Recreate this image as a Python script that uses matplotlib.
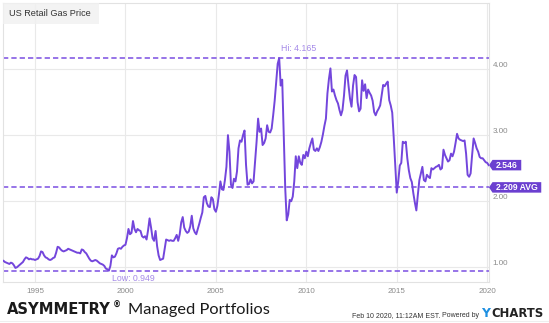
import matplotlib
matplotlib.use("Agg")
import matplotlib.pyplot as plt
from matplotlib.patches import Rectangle, Polygon
from matplotlib.transforms import IdentityTransform, blended_transform_factory
import numpy as np

# Monthly US retail gasoline price, $/gal, Mar 1993 - Feb 2020
start_year, start_month = 1993, 3
prices = [
    # 1993 (Mar-Dec)
    1.09, 1.10, 1.08, 1.07, 1.06, 1.05, 1.07, 1.06, 1.03, 0.99,
    # 1994
    1.00, 1.02, 1.04, 1.06, 1.08, 1.12, 1.15, 1.14, 1.12, 1.13, 1.12, 1.12,
    # 1995
    1.11, 1.12, 1.13, 1.17, 1.24, 1.23, 1.18, 1.15, 1.14, 1.12, 1.11, 1.12,
    # 1996
    1.14, 1.15, 1.22, 1.31, 1.30, 1.27, 1.25, 1.24, 1.25, 1.26, 1.28, 1.27,
    # 1997
    1.26, 1.25, 1.24, 1.23, 1.22, 1.22, 1.21, 1.27, 1.26, 1.23, 1.21, 1.17,
    # 1998
    1.13, 1.10, 1.09, 1.10, 1.11, 1.10, 1.08, 1.06, 1.05, 1.04, 1.02, 0.98,
    # 1999
    0.97, 0.949, 1.02, 1.18, 1.15, 1.16, 1.21, 1.28, 1.29, 1.28, 1.31, 1.33,
    # 2000
    1.34, 1.44, 1.58, 1.50, 1.52, 1.70, 1.58, 1.53, 1.58, 1.56, 1.55, 1.47,
    # 2001
    1.45, 1.47, 1.42, 1.56, 1.74, 1.60, 1.44, 1.40, 1.55, 1.32, 1.18, 1.11,
    # 2002
    1.12, 1.13, 1.28, 1.42, 1.41, 1.40, 1.41, 1.40, 1.40, 1.44, 1.49, 1.40,
    # 2003
    1.50, 1.68, 1.76, 1.60, 1.55, 1.52, 1.54, 1.62, 1.78, 1.59, 1.53, 1.50,
    # 2004
    1.58, 1.66, 1.75, 1.83, 2.06, 2.08, 1.97, 1.92, 1.91, 2.06, 2.03, 1.88,
    # 2005
    1.84, 1.93, 2.10, 2.30, 2.18, 2.17, 2.32, 2.52, 3.00, 2.75, 2.25, 2.20,
    # 2006
    2.34, 2.30, 2.45, 2.80, 2.92, 2.90, 3.00, 3.07, 2.55, 2.25, 2.26, 2.33,
    # 2007
    2.27, 2.30, 2.60, 2.90, 3.25, 3.05, 3.10, 2.85, 2.88, 2.95, 3.15, 3.05,
    # 2008
    3.04, 3.10, 3.30, 3.52, 3.80, 4.08, 4.165, 3.75, 3.84, 3.00, 2.20, 1.71,
    # 2009
    1.80, 2.02, 2.00, 2.07, 2.30, 2.68, 2.50, 2.68, 2.58, 2.55, 2.70, 2.65,
    # 2010
    2.75, 2.68, 2.80, 2.88, 2.95, 2.78, 2.76, 2.80, 2.76, 2.82, 2.90, 3.01,
    # 2011
    3.14, 3.25, 3.63, 3.85, 4.01, 3.66, 3.69, 3.60, 3.53, 3.48, 3.38, 3.30,
    # 2012
    3.38, 3.60, 3.90, 3.98, 3.75, 3.55, 3.43, 3.75, 3.91, 3.88, 3.50, 3.36,
    # 2013
    3.40, 3.83, 3.67, 3.77, 3.56, 3.69, 3.64, 3.60, 3.52, 3.35, 3.30, 3.36,
    # 2014
    3.40, 3.45, 3.60, 3.76, 3.74, 3.78, 3.81, 3.53, 3.45, 3.34, 2.96, 2.55,
    # 2015
    2.13, 2.30, 2.54, 2.58, 2.90, 2.88, 2.90, 2.65, 2.47, 2.35, 2.29, 2.12,
    # 2016
    1.98, 1.86, 2.10, 2.32, 2.42, 2.52, 2.32, 2.30, 2.40, 2.37, 2.35, 2.50,
    # 2017
    2.48, 2.50, 2.52, 2.53, 2.55, 2.48, 2.50, 2.78, 2.70, 2.65, 2.60, 2.62,
    # 2018
    2.72, 2.68, 2.75, 2.88, 3.02, 2.95, 2.93, 2.92, 2.91, 2.92, 2.72, 2.40,
    # 2019
    2.37, 2.42, 2.70, 2.95, 2.88, 2.80, 2.75, 2.67, 2.65, 2.65, 2.62, 2.59,
    # 2020
    2.58, 2.546,
]

hi_value = 4.165
low_value = 0.949
avg_value = 2.209
last_value = 2.546
year_ticks = [1995, 2000, 2005, 2010, 2015, 2020]
price_ticks = [1.00, 2.00, 3.00, 4.00]

dates = start_year + (start_month - 1) / 12 + np.arange(len(prices)) / 12
prices = np.array(prices)

PURPLE = "#7346dc"
DASH = "#7a4ee2"
BOX = "#6b3fd0"
LIGHT_PURPLE = "#a58ae8"
GRID = "#e9e9e9"
SANS = "Liberation Sans"

plt.rcParams["lines.scale_dashes"] = False

W, H = 549, 323
fig = plt.figure(figsize=(W / 100, H / 100), dpi=100)
fig.patch.set_facecolor("white")

# plot area in pixels: x 3..489, y 3..282 (from top)
ax = fig.add_axes([3 / W, (H - 282) / H, 486 / W, 279 / H])
ax.set_xlim(1993.23, 2020.1)
ax.set_ylim(0.777, 5.0)

for s in ax.spines.values():
    s.set_color("#e2e2e2")
    s.set_linewidth(0.8)

ax.set_xticks(year_ticks)
ax.set_xticklabels([str(y) for y in year_ticks])
ax.set_yticks(price_ticks)
ax.set_yticklabels([f"{v:.2f}" for v in price_ticks])
ax.yaxis.tick_right()
ax.tick_params(axis="both", length=0, colors="#8a8a8a", labelsize=5.8)
ax.tick_params(axis="x", pad=4)
ax.tick_params(axis="y", pad=2.5)
for lbl in ax.get_yticklabels():
    lbl.set_va("bottom")
    lbl.set_family(SANS)
for lbl in ax.get_xticklabels():
    lbl.set_family(SANS)
ax.grid(True, color=GRID, linewidth=0.8, zorder=0)
ax.set_axisbelow(True)

# reference levels
for v in (hi_value, low_value, avg_value):
    ax.axhline(v, color=DASH, linewidth=1.1, dashes=(3.8, 2.2), zorder=2)

ax.plot(dates, prices, color=PURPLE, linewidth=1.4, zorder=3,
        solid_joinstyle="round")

hi_date = dates[np.argmax(prices)]
low_date = dates[np.argmin(prices)]
ax.annotate(f"Hi: {hi_value:.3f}", (hi_date, hi_value), xytext=(1, 7.2),
            textcoords="offset points", ha="left", va="center",
            color=LIGHT_PURPLE, fontsize=6.3, family=SANS)
ax.annotate(f"Low: {low_value:.3f}", (low_date, low_value), xytext=(2, -5.8),
            textcoords="offset points", ha="left", va="center",
            color=LIGHT_PURPLE, fontsize=6.3, family=SANS)

# title tab
fig.add_artist(Rectangle((3, H - 24), 96, 21, transform=IdentityTransform(),
                         facecolor="#f1f1f1", edgecolor="none", alpha=0.85,
                         zorder=5))
fig.text(9 / W, 1 - 14 / H, "US Retail Gas Price", ha="left", va="center",
         fontsize=6.6, color="#333333", family=SANS, zorder=6)

fig.canvas.draw()
r = fig.canvas.get_renderer()
edge = blended_transform_factory(ax.transAxes, ax.transData)


def flag(value, text):
    xd, yd = edge.transform((1.0, value))
    h = 10.5
    x0 = xd + 3.5
    t = fig.text((x0 + 3.5) / W, yd / H, text, ha="left", va="center",
                 color="white", fontsize=6.2, fontweight="bold", family=SANS,
                 zorder=7)
    width = t.get_window_extent(renderer=r).x1 + 3.5 - x0
    fig.add_artist(Polygon([(xd, yd), (x0, yd + h / 2), (x0 + width, yd + h / 2),
                            (x0 + width, yd - h / 2), (x0, yd - h / 2)],
                           closed=True, transform=IdentityTransform(),
                           facecolor=BOX, edgecolor="none", zorder=6))


flag(last_value, f"{last_value:.3f}")
flag(avg_value, f"{avg_value:.3f} AVG")


def fit(text, x_px, y_px, width_px, **kw):
    """Place text with its left edge at x_px and scale it to width_px."""
    t = fig.text(x_px / W, 1 - y_px / H, text, ha="left", va="baseline",
                 fontsize=10, **kw)
    w = t.get_window_extent(renderer=r).width
    t.set_fontsize(10 * width_px / w)
    return t


# footer
fit("ASYMMETRY", 7, 314, 104, fontweight="bold", color="#1a1a1a",
    family="DejaVu Sans")
fit("®", 113, 308, 8, fontweight="bold", color="#1a1a1a", family="DejaVu Sans")
fit("Managed Portfolios", 128, 314, 142, color="#1a1a1a", family="Lato")

fig.text(440 / W, 1 - 317 / H, "Feb 10 2020, 11:12AM EST.", ha="right",
         va="baseline", fontsize=5.0, color="#333333", family=SANS)
fig.text(479 / W, 1 - 317 / H, "Powered by", ha="right", va="baseline",
         fontsize=5.0, color="#333333", family=SANS)
fit("Y", 481, 317, 9, fontweight="bold", color="#1d8fe1", family="DejaVu Sans")
fit("CHARTS", 491, 317, 52, fontweight="bold", color="#222222",
    family="DejaVu Sans")

fig.add_artist(plt.Line2D([0, 1], [1 - 321 / H, 1 - 321 / H], color="#eeeeee",
                          linewidth=0.8))

fig.savefig("out.png", dpi=100, facecolor="white")
